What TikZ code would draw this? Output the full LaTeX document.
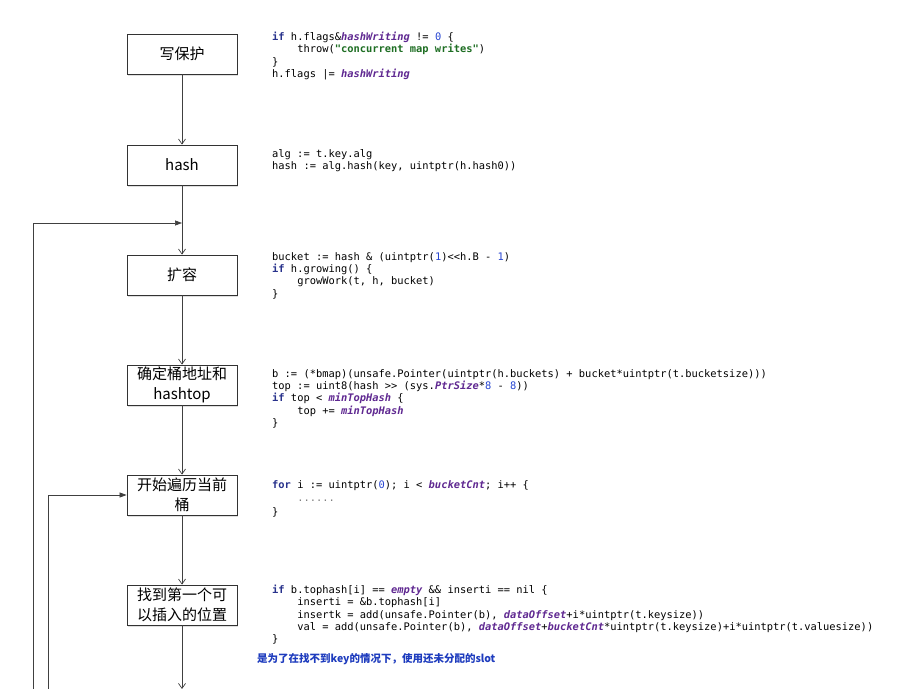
\documentclass[tikz,border=0pt]{standalone}
\usepackage{fontspec}
\setmonofont{DejaVu Sans Mono}
\newfontfamily\cjk{Noto Sans CJK SC}
\usetikzlibrary{arrows.meta,shadows}

\definecolor{kwblue}{RGB}{40,50,140}
\definecolor{numblue}{RGB}{40,70,210}
\definecolor{strgreen}{RGB}{30,110,35}
\definecolor{cstpurple}{RGB}{95,40,145}
\definecolor{noteblue}{RGB}{30,60,190}

\newcommand{\gokw}[1]{\textcolor{kwblue}{\bfseries #1}}
\newcommand{\gonum}[1]{\textcolor{numblue}{#1}}
\newcommand{\gostr}[1]{\textcolor{strgreen}{\bfseries #1}}
\newcommand{\gocst}[1]{\textcolor{cstpurple}{\bfseries\itshape #1}}
\newcommand{\goind}{\hphantom{xxxx}}

\tikzset{
  stepbox/.style={draw=black!80, fill=white, line width=0.8pt, minimum width=110pt, minimum height=40pt,
    inner sep=0pt, align=center, font=\cjk\fontsize{15}{20}\selectfont,
    drop shadow={shadow xshift=1pt, shadow yshift=-1.5pt, opacity=0.25}},
  code/.style={anchor=north west, inner sep=0pt, align=left, font=\ttfamily\fontsize{10.4}{12.3}\selectfont},
  flow/.style={draw=black!75, line width=0.7pt, -{Straight Barb[length=5pt,width=7pt]}},
  back/.style={draw=black!75, line width=0.7pt, -{Triangle[length=7pt,width=5pt]}}
}

\begin{document}
\begin{tikzpicture}[x=1pt, y=-1pt]
  \useasboundingbox (0,0) rectangle (901,688);
  \fill[white] (0,0) rectangle (901,688);

  % steps
  \node[stepbox] (wp) at (182,54) {写保护};
  \node[stepbox] (hash) at (182,165) {hash};
  \node[stepbox] (grow) at (182,275) {扩容};
  \node[stepbox] (addr) at (182,385) {确定桶地址和\\hashtop};
  \node[stepbox] (iter) at (182,495) {开始遍历当前\\桶};
  \node[stepbox] (slot) at (182,605) {找到第一个可\\以插入的位置};

  \coordinate (j1) at (182,223);
  \coordinate (l1) at (33,690);
  \coordinate (l2) at (48,690);
  \coordinate (e) at (182,689);

  \draw[flow] (wp) -- (hash);
  \draw[flow] (hash) -- (grow);
  \draw[flow] (grow) -- (addr);
  \draw[flow] (addr) -- (iter);
  \draw[flow] (iter) -- (slot);
  \draw[flow] (slot) -- (e);

  \draw[back] (l1) |- (j1);
  \draw[back] (l2) |- (iter.west);

  % code
  \node[code] (c1) at (272,32) {\gokw{if} h.flags\&\gocst{hashWriting} != \gonum{0} \{\\
    \goind throw(\gostr{"concurrent map writes"})\\
    \}\\
    h.flags |= \gocst{hashWriting}};

  \node[code] (c2) at (272,149) {alg := t.key.alg\\
    hash := alg.hash(key, uintptr(h.hash0))};

  \node[code] (c3) at (272,252) {bucket := hash \& (uintptr(\gonum{1})<<h.B - \gonum{1})\\
    \gokw{if} h.growing() \{\\
    \goind growWork(t, h, bucket)\\
    \}};

  \node[code] (c4) at (272,369) {b := (*bmap)(unsafe.Pointer(uintptr(h.buckets) + bucket*uintptr(t.bucketsize)))\\
    top := uint8(hash >> (sys.\gocst{PtrSize}*\gonum{8} - \gonum{8}))\\
    \gokw{if} top < \gocst{minTopHash} \{\\
    \goind top += \gocst{minTopHash}\\
    \}};

  \node[code, font=\ttfamily\fontsize{10.4}{13.8}\selectfont] (c5) at (272,480) {\gokw{for} i := uintptr(\gonum{0}); i < \gocst{bucketCnt}; i++ \{\\
    \goind\textcolor{black!50}{......}\\
    \}};

  \node[code] (c6) at (272,585) {\gokw{if} b.tophash[i] == \gocst{empty} \&\& inserti == nil \{\\
    \goind inserti = \&b.tophash[i]\\
    \goind insertk = add(unsafe.Pointer(b), \gocst{dataOffset}+i*uintptr(t.keysize))\\
    \goind val = add(unsafe.Pointer(b), \gocst{dataOffset}+\gocst{bucketCnt}*uintptr(t.keysize)+i*uintptr(t.valuesize))\\
    \}};

  \node[anchor=west, inner sep=0pt, text=noteblue, font=\cjk\bfseries\fontsize{10.5}{12}\selectfont] (note) at (257,659) {是为了在找不到key的情况下，使用还未分配的slot};
\end{tikzpicture}
\end{document}
